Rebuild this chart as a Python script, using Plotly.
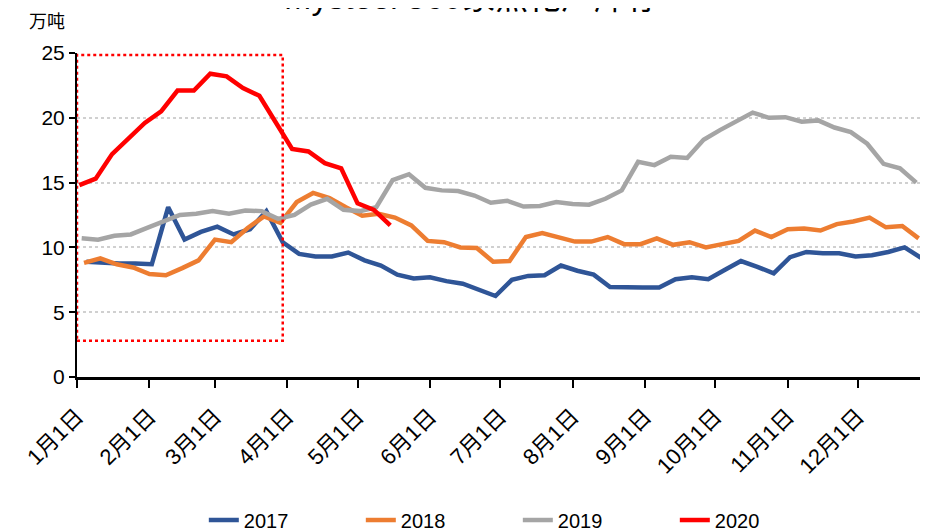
import pandas as pd
import plotly.graph_objects as go

# ---- data (万吨), weekly ----
years = ["2017", "2018", "2019", "2020"]
start_dates = {"2017": "2001-01-05", "2018": "2001-01-04", "2019": "2001-01-03", "2020": "2001-01-02"}

v2017 = [8.9, 8.8, 8.75, 8.75, 8.7, 13.1, 10.6, 11.2, 11.6, 11.0, 11.4, 12.8, 10.4, 9.5, 9.3, 9.3,
         9.6, 9.0, 8.6, 7.9, 7.6, 7.7, 7.4, 7.2, 6.75, 6.25, 7.5, 7.8, 7.85, 8.6, 8.2, 7.9, 6.95,
         6.9, 6.9, 6.9, 7.55, 7.7, 7.55, 8.25, 8.95, 8.5, 8.0, 9.25, 9.65, 9.55, 9.55, 9.3, 9.4,
         9.65, 10.0, 9.2]
v2018 = [8.8, 9.15, 8.7, 8.45, 7.95, 7.85, 8.4, 9.0, 10.6, 10.4, 11.5, 12.4, 11.9, 13.5, 14.2,
         13.8, 13.1, 12.45, 12.6, 12.3, 11.7, 10.5, 10.4, 10.0, 9.95, 8.9, 8.95, 10.8, 11.1, 10.8,
         10.45, 10.45, 10.8, 10.25, 10.25, 10.7, 10.2, 10.4, 10.0, 10.25, 10.5, 11.3, 10.8, 11.4,
         11.45, 11.3, 11.8, 12.0, 12.3, 11.55, 11.65, 10.7]
v2019 = [10.7, 10.6, 10.9, 11.0, 11.5, 12.0, 12.5, 12.6, 12.8, 12.6, 12.85, 12.8, 12.2, 12.5,
         13.3, 13.75, 12.9, 12.8, 13.1, 15.2, 15.65, 14.6, 14.4, 14.35, 14.0, 13.45, 13.6, 13.15,
         13.2, 13.5, 13.35, 13.3, 13.75, 14.4, 16.6, 16.35, 17.0, 16.9, 18.3, 19.05, 19.75, 20.4,
         20.0, 20.05, 19.7, 19.8, 19.25, 18.9, 18.0, 16.45, 16.1, 15.0]
v2020 = [14.8, 15.3, 17.2, 18.4, 19.6, 20.5, 22.1, 22.1, 23.4, 23.2, 22.3, 21.7, 19.7, 17.6,
         17.4, 16.5, 16.1, 13.4, 12.9, 11.7]
values = {"2017": v2017, "2018": v2018, "2019": v2019, "2020": v2020}
colors = {"2017": "#2F5597", "2018": "#ED7D31", "2019": "#A5A5A5", "2020": "#FF0000"}

tick_dates = ["2001-%02d-01" % m for m in range(1, 13)]
tick_labels = ["%d月1日" % m for m in range(1, 13)]

# highlighted window (dotted box)
box_x = ["2001-01-01", "2001-03-30"]
box_y = [2.8, 24.85]

FONT = "Liberation Sans, Arial, Noto Sans CJK SC, sans-serif"

fig = go.Figure()
for y in years:
    xs = pd.date_range(start_dates[y], periods=len(values[y]), freq="7D")
    fig.add_trace(go.Scatter(x=xs, y=values[y], mode="lines", name=y,
                             line=dict(color=colors[y], width=4.5), hoverinfo="skip"))

fig.add_shape(type="rect", xref="x", yref="y", x0=box_x[0], x1=box_x[1], y0=box_y[0], y1=box_y[1],
              line=dict(color="#FF0000", width=2.5, dash="dot"), fillcolor="rgba(0,0,0,0)", layer="above")

fig.add_annotation(text="Mysteel 360家焦化厂库存", xref="paper", yref="paper", x=0.464, y=1.172,
                   xanchor="center", yanchor="middle", showarrow=False,
                   font=dict(family=FONT, size=33, color="black"))
fig.add_annotation(text="万吨", xref="paper", yref="paper", x=-0.059, y=1.102,
                   xanchor="left", yanchor="middle", showarrow=False,
                   font=dict(family="Noto Sans CJK SC, sans-serif", size=18, color="black"))

fig.update_layout(
    width=920, height=523,
    margin=dict(l=69, r=0, t=45, b=154, autoexpand=False),
    paper_bgcolor="white", plot_bgcolor="white",
    font=dict(family=FONT, color="black"),
    showlegend=True,
    legend=dict(orientation="h", x=0.518, y=0.021, xref="paper", yref="container",
                xanchor="center", yanchor="middle",
                font=dict(size=20, family=FONT), entrywidth=112, entrywidthmode="pixels"),
    xaxis=dict(type="date", range=["2001-01-01", "2001-12-31"], tickvals=tick_dates, ticktext=tick_labels,
               tickangle=-45, tickfont=dict(size=22, family=FONT), showgrid=False, automargin=False,
               ticklabelstandoff=7,
               showline=True, linecolor="black", linewidth=2.5, ticks="outside", ticklen=8,
               tickwidth=1.5, tickcolor="black", zeroline=False),
    yaxis=dict(range=[0, 25], tickvals=[0, 5, 10, 15, 20, 25], tickfont=dict(size=21, family=FONT),
               showline=True, linecolor="black", linewidth=2, ticks="outside", ticklen=6, automargin=False,
               tickwidth=1.5, tickcolor="black", showgrid=True, gridcolor="#D0D0D0",
               griddash="dot", gridwidth=1.5, zeroline=False),
)

fig.write_html("out.html")
